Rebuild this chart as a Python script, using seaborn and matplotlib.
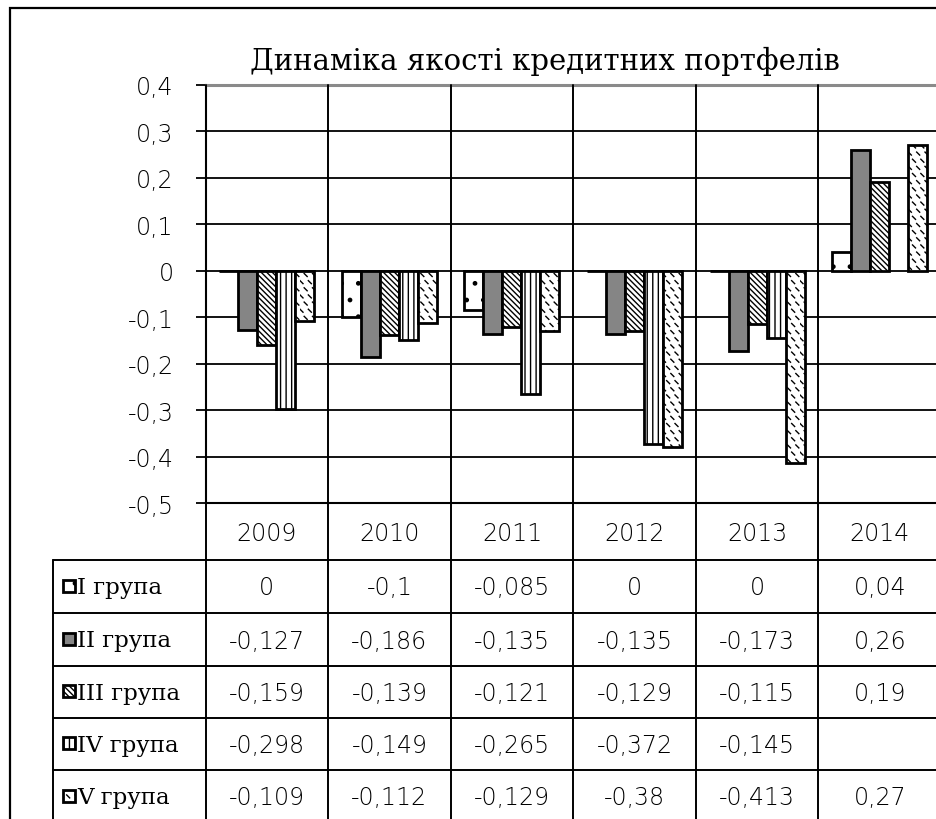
import numpy as np
import pandas as pd
import matplotlib
matplotlib.use("Agg")
import matplotlib.pyplot as plt
import seaborn as sns
from matplotlib import transforms
from matplotlib import hatch as mhatch
from matplotlib.path import Path
from matplotlib.patches import Rectangle
from matplotlib.lines import Line2D
from matplotlib.ticker import FixedLocator, FuncFormatter
import warnings

warnings.filterwarnings("ignore")

# ---- data -------------------------------------------------------------
years = ["2009", "2010", "2011", "2012", "2013", "2014"]
groups = ["I група", "II група", "III група", "IV група", "V група"]
group_1 = [0, -0.1, -0.085, 0, 0, 0.04]
group_2 = [-0.127, -0.186, -0.135, -0.135, -0.173, 0.26]
group_3 = [-0.159, -0.139, -0.121, -0.129, -0.115, 0.19]
group_4 = [-0.298, -0.149, -0.265, -0.372, -0.145, None]
group_5 = [-0.109, -0.112, -0.129, -0.38, -0.413, 0.27]
y_ticks = [-0.5, -0.4, -0.3, -0.2, -0.1, 0, 0.1, 0.2, 0.3, 0.4]
title = "Динаміка якості кредитних портфелів"

series = [group_1, group_2, group_3, group_4, group_5]
rows = []
for g, vals in zip(groups, series):
    for yr, v in zip(years, vals):
        if v is not None:
            rows.append({"year": yr, "group": g, "value": v})
df = pd.DataFrame(rows)


# ---- short diagonal dash fill pattern (hatch letter 'z') ----------------
class ShortDashes(mhatch.HatchPatternBase):
    def __init__(self, hatch, density):
        n = hatch.count("z")
        self.num_rows = 14 * n
        self.num_cols = 12 if n else 0
        self.num_vertices = self.num_rows * self.num_cols * 2

    def set_vertices_and_codes(self, vertices, codes):
        k = 0
        d = 0.03
        for r in range(self.num_rows):
            for c in range(self.num_cols):
                x = (c + 0.5 * (r % 2)) / self.num_cols
                y = (r + 0.5) / self.num_rows
                vertices[k] = (x, y + d / 2)
                vertices[k + 1] = (x + d, y - d / 2)
                codes[k] = Path.MOVETO
                codes[k + 1] = Path.LINETO
                k += 2


mhatch._hatch_types.append(ShortDashes)

# ---- style ------------------------------------------------------------
sns.set_style("white")
plt.rcParams["font.family"] = ["DejaVu Sans"]
plt.rcParams["hatch.linewidth"] = 1.0
plt.rcParams["hatch.color"] = "black"

W, H = 937, 820
fig = plt.figure(figsize=(W / 100, H / 100), dpi=100)


def fx(px):
    return px / W


def fy(py):
    return 1 - py / H


ax_left, ax_right = 205.5, 941.0
ax_top, ax_bottom = 85.7, 504.3
ax = fig.add_axes([fx(ax_left), fy(ax_bottom), fx(ax_right - ax_left),
                   (ax_bottom - ax_top) / H])

fills = [
    dict(facecolor="white", hatch="."),
    dict(facecolor="#858585", hatch=""),
    dict(facecolor="white", hatch="\\\\\\\\\\\\"),
    dict(facecolor="white", hatch="|||"),
    dict(facecolor="white", hatch="z"),
]

sns.barplot(data=df, x="year", y="value", hue="group", order=years,
            hue_order=groups, width=0.775, gap=0, dodge=True, ax=ax,
            legend=False, errorbar=None, saturation=1,
            palette=["white"] * 5, edgecolor="black", linewidth=2.0,
            zorder=3)

for cont, st in zip(ax.containers, fills):
    for p in cont.patches:
        p.set_facecolor(st["facecolor"])
        p.set_hatch(st["hatch"])
        p.set_edgecolor("black")

ax.set_xlim(-0.5, len(years) - 0.5)
ax.set_ylim(min(y_ticks), max(y_ticks))
ax.set_xlabel("")
ax.set_ylabel("")
ax.set_xticks([])
ax.yaxis.set_major_locator(FixedLocator(y_ticks))
ax.yaxis.set_major_formatter(
    FuncFormatter(lambda v, _: f"{round(v, 1):g}".replace(".", ",")
                  if abs(v) > 1e-9 else "0"))
ax.tick_params(axis="y", direction="out", length=7, width=1.3, pad=16,
               labelsize=17, colors="black", left=True)
for lab in ax.get_yticklabels():
    lab.set_fontweight("light")

for t in y_ticks:
    if t < max(y_ticks):
        ax.axhline(t, color="black", lw=1.3, zorder=1)

ax.spines["top"].set_color("#8a8a8a")
ax.spines["top"].set_linewidth(2.2)
ax.spines["left"].set_color("black")
ax.spines["left"].set_linewidth(1.5)
ax.spines["bottom"].set_color("black")
ax.spines["bottom"].set_linewidth(1.5)
ax.spines["right"].set_visible(False)

# category borders through plot and data table
blend = transforms.blended_transform_factory(ax.transData, fig.transFigure)
for i in range(len(years) + 1):
    xb = i - 0.5
    fig.add_artist(Line2D([xb, xb], [fy(H + 10), fy(ax_top)], transform=blend,
                          color="black", lw=1.4, zorder=2))

# ---- data table -------------------------------------------------------
tbl_left = 53
row_edges = [561, 614, 667, 719, 771, 824]
for yb in row_edges[:-1]:
    fig.add_artist(Line2D([fx(tbl_left), 1.01], [fy(yb), fy(yb)],
                          transform=fig.transFigure, color="black", lw=1.4))
fig.add_artist(Line2D([fx(tbl_left), fx(tbl_left)], [fy(row_edges[0]), fy(H + 10)],
                      transform=fig.transFigure, color="black", lw=1.4))

num_font = dict(fontsize=17, fontweight="light", color="black",
                family=["DejaVu Sans"])
for i, yr in enumerate(years):
    ax.text(i, fy(534), yr, transform=blend, ha="center", va="center", **num_font)

for r, (g, vals, st) in enumerate(zip(groups, series, fills)):
    yc = (row_edges[r] + row_edges[r + 1]) / 2
    key = Rectangle((fx(63.5), fy(yc + 5)), fx(12), 12 / H,
                    transform=fig.transFigure, facecolor=st["facecolor"],
                    hatch=st["hatch"], edgecolor="black", lw=2.0)
    fig.add_artist(key)
    fig.text(fx(77), fy(yc + 1), g, ha="left", va="center", fontsize=16.5,
             family=["DejaVu Serif"], color="black")
    for i, v in enumerate(vals):
        if v is None:
            continue
        ax.text(i, fy(yc + 1), f"{v:g}".replace(".", ","), transform=blend,
                ha="center", va="center", **num_font)

# ---- title and outer frame --------------------------------------------
fig.text(fx(545), fy(70), title, ha="center", va="baseline", fontsize=21,
         family=["DejaVu Serif"], color="black")
fig.add_artist(Rectangle((fx(10), -0.1), 1.2, fy(8.5) + 0.1,
                         transform=fig.transFigure, fill=False,
                         edgecolor="black", lw=1.6))

fig.savefig("out.png", dpi=100)
